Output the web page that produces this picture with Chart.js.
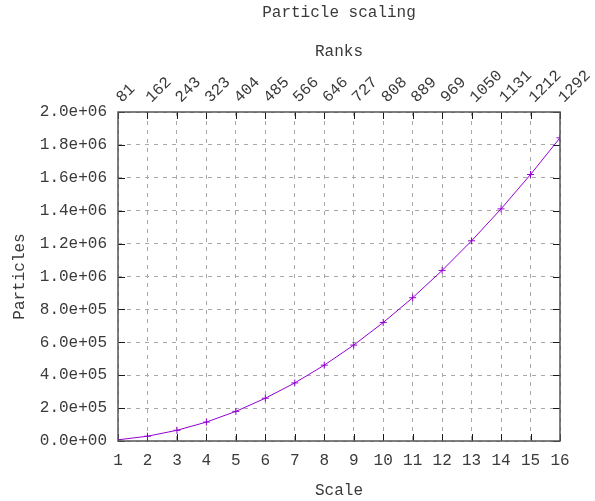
<!DOCTYPE html>
<html><head><meta charset="utf-8">
<script src="https://cdn.jsdelivr.net/npm/chart.js@4"></script>
<style>html,body{margin:0;padding:0;background:#fff}</style>
</head><body>
<canvas id="c" width="595" height="501" style="display:block"></canvas>
<script>
const TITLE = 'Particle scaling';
const X_TITLE = 'Scale';
const Y_TITLE = 'Particles';
const X2_TITLE = 'Ranks';
const scaleValues = [1, 2, 3, 4, 5, 6, 7, 8, 9, 10, 11, 12, 13, 14, 15, 16];
const particles = [7200, 29000, 65000, 115000, 180000, 260000, 353000, 461000, 583000, 720000, 871000, 1037000, 1217000, 1411000, 1620000, 1843000];
const rankLabels = ['81', '162', '243', '323', '404', '485', '566', '646', '727', '808', '889', '969', '1050', '1131', '1212', '1292'];

const FONT = {family: '"Liberation Mono", "DejaVu Sans Mono", monospace', size: 16, lineHeight: 1.2};
const TEXT = '#3a3a3a';
const GRID = '#a8a8a8';
const LINE = '#9400d3';

function fmtExp(v) {
  return Number(v).toExponential(1).replace(/e([+-])(\d)$/, 'e$10$2');
}
function zeroPad(s) { s.paddingLeft = 0; s.paddingRight = 0; s.paddingTop = 0; s.paddingBottom = 0; }

const framePlugin = {
  id: 'frame',
  beforeDatasetsDraw(chart) {
    const {ctx, chartArea: a, scales: {x, y}} = chart;
    const tl = 7;
    ctx.save();
    ctx.strokeStyle = '#1a1a1a';
    ctx.lineWidth = 1;
    ctx.beginPath();
    x.ticks.forEach(t => {
      const px = Math.round(x.getPixelForValue(t.value)) + 0.5;
      ctx.moveTo(px, a.bottom); ctx.lineTo(px, a.bottom - tl);
      ctx.moveTo(px, a.top); ctx.lineTo(px, a.top + tl);
    });
    y.ticks.forEach(t => {
      const py = Math.round(y.getPixelForValue(t.value)) + 0.5;
      ctx.moveTo(a.left, py); ctx.lineTo(a.left + tl, py);
      ctx.moveTo(a.right, py); ctx.lineTo(a.right - tl, py);
    });
    ctx.stroke();
    ctx.restore();
  },
  afterDraw(chart) {
    const {ctx, chartArea: a, scales: {x2}} = chart;
    ctx.save();
    ctx.strokeStyle = '#555';
    ctx.lineWidth = 1.5;
    ctx.strokeRect(a.left, a.top, a.width, a.height);
    ctx.font = '16px ' + FONT.family;
    ctx.fillStyle = TEXT;
    ctx.textAlign = 'center';
    ctx.textBaseline = 'middle';
    ctx.fillText(TITLE, (a.left + a.right) / 2, 13);
    // rotated rank labels on the top axis, left-anchored at each tick
    ctx.textAlign = 'left';
    ctx.textBaseline = 'alphabetic';
    x2.ticks.forEach(t => {
      const label = rankLabels[scaleValues.indexOf(t.value)];
      if (label === undefined) return;
      const px = x2.getPixelForValue(t.value);
      ctx.save();
      ctx.translate(px + 4, a.top - 9);
      ctx.rotate(-Math.PI / 4);
      ctx.fillText(label, 0, 0);
      ctx.restore();
    });
    ctx.restore();
  }
};

new Chart(document.getElementById('c'), {
  type: 'line',
  data: {
    datasets: [{
      data: scaleValues.map((s, i) => ({x: s, y: particles[i]})),
      borderColor: LINE,
      backgroundColor: LINE,
      borderWidth: 1,
      pointStyle: 'cross',
      pointRadius: 3.5,
      pointBorderWidth: 1,
      pointBorderColor: LINE,
      tension: 0,
      fill: false
    }]
  },
  options: {
    responsive: false,
    animation: false,
    devicePixelRatio: 1,
    layout: {padding: {top: 0, left: 0, right: 35, bottom: 0}},
    plugins: {legend: {display: false}, tooltip: {enabled: false}, title: {display: false}},
    scales: {
      x: {
        type: 'linear', position: 'bottom', min: 1, max: 16,
        ticks: {stepSize: 1, color: TEXT, font: FONT, padding: 10, maxRotation: 0, autoSkip: false},
        grid: {color: GRID, drawTicks: false, lineWidth: 1},
        border: {display: false, dash: [4, 5]},
        title: {display: true, text: X_TITLE, color: TEXT, font: FONT, padding: {top: 0, bottom: 1}},
        afterFit(s) { s.height = 60; zeroPad(s); }
      },
      x2: {
        type: 'linear', position: 'top', min: 1, max: 16,
        ticks: {stepSize: 1, display: false, autoSkip: false},
        grid: {display: false, drawTicks: false},
        border: {display: false},
        title: {display: true, text: X2_TITLE, color: TEXT, font: FONT, padding: {top: 42.4, bottom: 0}},
        afterFit(s) { s.height = 112; zeroPad(s); }
      },
      y: {
        type: 'linear', position: 'left', min: 0, max: 2000000,
        ticks: {stepSize: 200000, color: TEXT, font: FONT, padding: 11, callback: fmtExp},
        grid: {color: GRID, drawTicks: false, lineWidth: 1},
        border: {display: false, dash: [4, 5]},
        title: {display: true, text: Y_TITLE, color: TEXT, font: FONT, padding: {top: 10.5, bottom: 0}},
        afterFit(s) { s.width = 118; zeroPad(s); }
      }
    }
  },
  plugins: [framePlugin]
});
</script>
</body></html>
